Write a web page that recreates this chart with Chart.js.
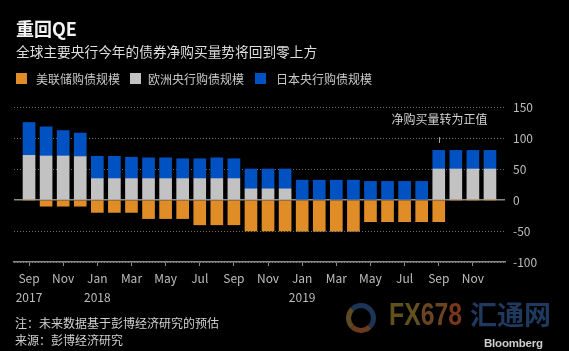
<!DOCTYPE html>
<html>
<head>
<meta charset="utf-8">
<script src="https://cdn.jsdelivr.net/npm/chart.js@4/dist/chart.umd.min.js"></script>
<style>
    html, body { margin: 0; padding: 0; background: #000; overflow: hidden; }
    #wrap {
        position: relative; width: 569px; height: 351px; background: #000;
        font-family: "Noto Sans CJK SC", "Noto Sans", sans-serif;
    }
    #chart { position: absolute; left: 0; top: 0; }
    .txt { position: absolute; white-space: nowrap; line-height: 1; }
    #title { left: 16px; top: 19px; font-size: 18px; font-weight: bold; color: #f2f2f2; }
    #subtitle { left: 16px; top: 45px; font-size: 13.7px; color: #dedede; }
    .box { position: absolute; top: 73px; width: 11px; height: 11px; }
    .leg { top: 72.5px; font-size: 12px; color: #c8c8c8; }
    .foot { left: 15px; font-size: 12px; color: #d0d0d0; }
    #bbg { left: 484px; top: 338px; font-family: "Liberation Sans", sans-serif; font-weight: bold; font-size: 11.5px; color: #cfcfcf; letter-spacing: -0.2px; }
    #logo {
        position: absolute; left: 346px; top: 303px; width: 20px; height: 20px; border-radius: 50%;
        border: 5px solid #1d3457; border-bottom-color: #6a3a1c; border-left-color: #5e4a20;
    }
    #wm1 {
        left: 389px; top: 299px; font-family: "Liberation Sans", sans-serif; font-weight: bold; font-size: 31px;
        transform: scaleX(0.8); transform-origin: left top;
    }
    #wm2 { left: 470px; top: 300px; font-size: 27px; font-weight: bold; color: #1f3a5e; }
</style>
</head>
<body>
<div id="wrap">
    <canvas id="chart" width="569" height="351"></canvas>
    <div class="txt" id="title">重回QE</div>
    <div class="txt" id="subtitle">全球主要央行今年的债券净购买量势将回到零上方</div>
    <div id="legend"></div>
    <div id="logo"></div>
    <div class="txt" id="wm1"><span style="color:#62501f">FX</span><span style="color:#6c4420">67</span><span style="color:#78361b">8</span></div>
    <div class="txt" id="wm2">汇通网</div>
    <div class="txt foot" style="top:317px">注：未来数据基于彭博经济研究的预估</div>
    <div class="txt foot" style="top:334px">来源：彭博经济研究</div>
    <div class="txt" id="bbg">Bloomberg</div>
</div>
<script>
// monthly categories, Sep 2017 - Dec 2019
const months = ["Sep", "Oct", "Nov", "Dec", "Jan", "Feb", "Mar", "Apr", "May", "Jun", "Jul", "Aug",
    "Sep", "Oct", "Nov", "Dec", "Jan", "Feb", "Mar", "Apr", "May", "Jun", "Jul", "Aug",
    "Sep", "Oct", "Nov", "Dec"];
const years = ["2017", "", "", "", "2018", "", "", "", "", "", "", "", "", "", "", "",
    "2019", "", "", "", "", "", "", "", "", "", "", ""];

// net purchases (bn USD)
const fedBuying = [0, -10, -10, -10, -20, -20, -20, -30, -30, -30, -40, -40, -40, -50, -50, -50,
    -50, -50, -50, -50, -35, -35, -35, -35, -35, 0, 0, 0];
const ecbBuying = [72, 71, 71, 70, 34.5, 34.5, 34.5, 34.5, 34.5, 34.5, 34.5, 34.5, 34.5, 18, 18, 18,
    0, 0, 0, 0, 0, 0, 0, 0, 50, 50, 50, 50];
const bojBuying = [53, 47, 41, 38, 36, 36, 34.5, 33.5, 33.5, 32, 32, 33.5, 32, 32, 32, 32,
    32, 32, 32, 32, 30, 30, 30, 30, 30, 30, 30, 30];

const seriesNames = ["美联储购债规模", "欧洲央行购债规模", "日本央行购债规模"];
const seriesColors = ["#e08c27", "#c2c2c2", "#0052c2"];
const yTicks = [-100, -50, 0, 50, 100, 150];
const noteText = "净购买量转为正值";
const noteIndex = 24;

const font = '"Noto Sans CJK SC", "Noto Sans", sans-serif';

// html legend
const legendBox = document.getElementById("legend");
const boxX = [16, 130, 255];
const textX = [36, 148, 276];
seriesNames.forEach((name, i) => {
    let b = document.createElement("div");
    b.className = "box";
    b.style.left = boxX[i] + "px";
    b.style.background = seriesColors[i];
    legendBox.appendChild(b);
    let t = document.createElement("div");
    t.className = "txt leg";
    t.style.left = textX[i] + "px";
    t.textContent = name;
    legendBox.appendChild(t);
});

function toPoints(arr) {
    return arr.map((v, i) => ({ x: i, y: v }));
}

const tickIndex = months.map((m, i) => i).filter(i => i % 2 === 0);

const notePlugin = {
    id: "note",
    afterDatasetsDraw(chart) {
        const { ctx, scales: { x, y } } = chart;
        const px = Math.round(x.getPixelForValue(noteIndex)) + 0.5;
        const py = y.getPixelForValue(100);
        ctx.save();
        ctx.strokeStyle = "#a0a0a0";
        ctx.lineWidth = 1;
        ctx.beginPath();
        ctx.moveTo(px, py - 1);
        ctx.lineTo(px, py + 5);
        ctx.stroke();
        ctx.fillStyle = "#d2d2d2";
        ctx.font = "12px " + font;
        ctx.textAlign = "center";
        ctx.textBaseline = "middle";
        ctx.fillText(noteText, px, py - 19);
        ctx.restore();
    }
};

const ctx = document.getElementById("chart").getContext("2d");
new Chart(ctx, {
    type: "bar",
    data: {
        datasets: [
            { label: seriesNames[0], data: toPoints(fedBuying), backgroundColor: seriesColors[0] },
            { label: seriesNames[1], data: toPoints(ecbBuying), backgroundColor: seriesColors[1] },
            { label: seriesNames[2], data: toPoints(bojBuying), backgroundColor: seriesColors[2] }
        ]
    },
    options: {
        responsive: false,
        animation: false,
        layout: { padding: { left: 14, top: 107, right: 0, bottom: 0 } },
        datasets: { bar: { barThickness: 12 } },
        plugins: { legend: { display: false }, tooltip: { enabled: false } },
        scales: {
            x: {
                type: "linear",
                offset: false,
                stacked: true,
                min: -0.88,
                max: 27.88,
                afterBuildTicks: s => { s.ticks = tickIndex.map(v => ({ value: v })); },
                afterFit: s => { s.height = 89; s.paddingLeft = 0; s.paddingRight = 0; },
                grid: { offset: false, drawOnChartArea: false, drawTicks: true, tickLength: 4, color: "#8a8a8a" },
                border: { display: true, color: "#8a8a8a", width: 1.5 },
                ticks: {
                    autoSkip: false,
                    maxRotation: 0,
                    padding: 3,
                    color: "#bdbdbd",
                    font: { family: font, size: 12, lineHeight: 1.6 },
                    callback: v => years[v] ? [months[v], years[v]] : months[v]
                }
            },
            y: {
                position: "right",
                stacked: true,
                min: -100,
                max: 150,
                afterBuildTicks: s => { s.ticks = yTicks.map(v => ({ value: v })); },
                afterFit: s => { s.width = 64; s.paddingTop = 0; s.paddingBottom = 0; },
                grid: {
                    drawTicks: false,
                    color: c => c.tick && c.tick.value === 0 ? "#8a8a8a" : "#6e6e6e",
                    lineWidth: c => c.tick && c.tick.value === 0 ? 1.5 : 1
                },
                border: { display: false, dash: c => c.tick && c.tick.value === 0 ? [] : [1, 2] },
                ticks: { padding: 8, color: "#bdbdbd", font: { family: font, size: 12 } }
            }
        }
    },
    plugins: [notePlugin]
});
</script>
</body>
</html>
